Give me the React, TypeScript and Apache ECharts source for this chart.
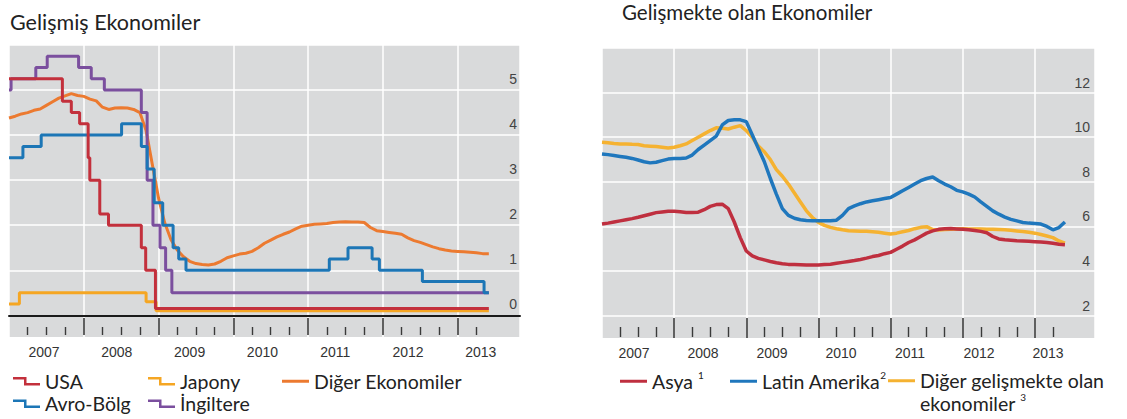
import React, { useEffect, useRef } from 'react';
import * as echarts from 'echarts';

// ---------- tick labels ----------
const years = ['2007', '2008', '2009', '2010', '2011', '2012', '2013'];

// ---------- Gelişmiş Ekonomiler (policy rates, change dates) ----------
const usa: [string, number][] = [
  ['2007-01-01', 5.25], ['2007-09-18', 4.75], ['2007-10-31', 4.5], ['2007-12-11', 4.25],
  ['2008-01-22', 3.5], ['2008-01-30', 3.0], ['2008-03-18', 2.25], ['2008-04-30', 2.0],
  ['2008-10-08', 1.5], ['2008-10-29', 1.0], ['2008-12-16', 0.15], ['2013-06-01', 0.15],
];
const japony: [string, number][] = [
  ['2007-01-01', 0.25], ['2007-02-21', 0.5], ['2008-10-31', 0.3], ['2008-12-19', 0.1], ['2013-06-01', 0.1],
];
const avroBolg: [string, number][] = [
  ['2007-01-01', 3.5], ['2007-03-08', 3.75], ['2007-06-06', 4.0], ['2008-07-03', 4.25],
  ['2008-10-08', 3.75], ['2008-11-06', 3.25], ['2008-12-10', 2.5], ['2009-01-21', 2.0],
  ['2009-03-11', 1.5], ['2009-04-08', 1.25], ['2009-05-13', 1.0], ['2011-04-13', 1.25],
  ['2011-07-13', 1.5], ['2011-11-09', 1.25], ['2011-12-14', 1.0], ['2012-07-11', 0.75],
  ['2013-05-08', 0.5], ['2013-06-01', 0.5],
];
const ingiltere: [string, number][] = [
  ['2007-01-01', 5.0], ['2007-01-11', 5.25], ['2007-05-10', 5.5], ['2007-07-05', 5.75],
  ['2007-12-06', 5.5], ['2008-02-07', 5.25], ['2008-04-10', 5.0], ['2008-10-08', 4.5],
  ['2008-11-06', 3.0], ['2008-12-04', 2.0], ['2009-01-08', 1.5], ['2009-02-05', 1.0],
  ['2009-03-05', 0.5], ['2013-06-01', 0.5],
];
// monthly, from Jan 2007
const digerEkonomiler = [
  4.38, 4.42, 4.47, 4.50, 4.55, 4.58, 4.66, 4.74, 4.82, 4.87,
  4.92, 4.88, 4.86, 4.80, 4.76, 4.62, 4.57, 4.60, 4.61, 4.60,
  4.57, 4.50, 4.10, 3.35, 2.60, 2.05, 1.68, 1.45, 1.30, 1.20,
  1.15, 1.13, 1.12, 1.14, 1.20, 1.28, 1.32, 1.36, 1.38, 1.42,
  1.50, 1.60, 1.67, 1.74, 1.80, 1.85, 1.92, 1.98, 2.00, 2.02,
  2.03, 2.04, 2.06, 2.07, 2.08, 2.07, 2.07, 2.06, 1.95, 1.88,
  1.86, 1.84, 1.82, 1.80, 1.72, 1.66, 1.62, 1.57, 1.52, 1.48,
  1.45, 1.43, 1.42, 1.41, 1.40, 1.39, 1.37, 1.37,
];

// ---------- Gelişmekte olan Ekonomiler (monthly, from Jan 2007) ----------
const asya = [
  6.11, 6.15, 6.20, 6.25, 6.30, 6.35, 6.41, 6.48, 6.55, 6.62,
  6.65, 6.68, 6.68, 6.66, 6.63, 6.63, 6.64, 6.75, 6.90, 6.98,
  7.00, 6.80, 6.20, 5.50, 4.90, 4.68, 4.57, 4.50, 4.43, 4.37,
  4.33, 4.30, 4.29, 4.28, 4.27, 4.27, 4.27, 4.29, 4.31, 4.35,
  4.39, 4.43, 4.47, 4.52, 4.58, 4.65, 4.70, 4.78, 4.84, 4.98,
  5.12, 5.28, 5.40, 5.55, 5.70, 5.80, 5.87, 5.90, 5.91, 5.89,
  5.87, 5.85, 5.82, 5.78, 5.72, 5.55, 5.44, 5.40, 5.38, 5.36,
  5.35, 5.34, 5.32, 5.30, 5.28, 5.25, 5.20, 5.18,
];
const latinAmerika = [
  9.25, 9.22, 9.18, 9.14, 9.10, 9.05, 8.98, 8.90, 8.85, 8.88,
  8.95, 9.02, 9.05, 9.05, 9.07, 9.20, 9.45, 9.65, 9.85, 10.05,
  10.55, 10.75, 10.78, 10.78, 10.70, 10.10, 9.50, 8.90, 8.15, 7.45,
  6.80, 6.50, 6.37, 6.30, 6.27, 6.26, 6.26, 6.26, 6.26, 6.28,
  6.50, 6.80, 6.92, 7.02, 7.10, 7.15, 7.20, 7.25, 7.30, 7.45,
  7.60, 7.75, 7.90, 8.05, 8.15, 8.22, 8.05, 7.90, 7.78, 7.62,
  7.55, 7.45, 7.32, 7.10, 6.90, 6.70, 6.55, 6.42, 6.32, 6.25,
  6.18, 6.15, 6.13, 6.11, 6.00, 5.85, 5.95, 6.20,
];
const digerGelismekte = [
  9.77, 9.75, 9.72, 9.70, 9.70, 9.68, 9.67, 9.62, 9.60, 9.58,
  9.55, 9.52, 9.55, 9.62, 9.70, 9.85, 10.00, 10.15, 10.30, 10.42,
  10.40, 10.37, 10.45, 10.52, 10.30, 10.00, 9.60, 9.35, 9.00, 8.55,
  8.25, 7.90, 7.50, 7.10, 6.70, 6.40, 6.18, 6.05, 5.96, 5.90,
  5.85, 5.81, 5.80, 5.79, 5.78, 5.76, 5.74, 5.70, 5.66, 5.70,
  5.76, 5.82, 5.90, 5.96, 5.99, 5.86, 5.84, 5.86, 5.88, 5.89,
  5.90, 5.89, 5.89, 5.89, 5.88, 5.87, 5.86, 5.85, 5.83, 5.80,
  5.77, 5.74, 5.70, 5.64, 5.57, 5.50, 5.35, 5.25,
];

// ---------- styling ----------
const FONT = 'Lato, "Open Sans", sans-serif';
const AXFONT = '"Liberation Sans", Arial, sans-serif';
const GREY = '#d9dadb';
const C = {
  usa: '#c3303c', japony: '#f5a623', diger: '#ec7a30', avro: '#1c76b6', ing: '#7b4f9e',
  asya: '#bf2f3f', latin: '#1f77bd', dge: '#f5b231',
};
const STEP_ICON = 'path://M0,0 L13.5,0 L13.5,6 L27,6 L27,8.5 L11,8.5 L11,2.5 L0,2.5 Z';
const LINE_ICON = 'path://M0,0 L27,0 L27,3 L0,3 Z';

const MONTHS = 82; // axis span in months from Jan 2007
const monthCats = Array.from({ length: MONTHS + 1 }, (_, i) => String(i));

function toMonth(d: string): number {
  const [y, m, dd] = d.split('-').map(Number);
  return (y - 2007) * 12 + (m - 1) + (dd - 1) / 30;
}

function isInt(v: number) {
  return Math.abs(v - Math.round(v)) < 1e-6;
}

function xAxesFor(grid: number, showZeroLine: boolean, majorOffset: number, majorLen: number,
  minorOffset: number, minorLen: number, labMin: number, labMax: number) {
  const hidden = { show: false };
  return [
    {
      type: 'value', gridIndex: grid, min: 0, max: MONTHS, minInterval: 12, maxInterval: 12,
      position: 'bottom',
      axisLine: { show: showZeroLine, onZero: true, lineStyle: { color: '#1a1a1a', width: 2 } },
      axisTick: hidden, axisLabel: hidden,
      splitLine: { show: true, lineStyle: { color: '#ffffff', width: 1.5 } },
    },
    {
      type: 'category', gridIndex: grid, data: monthCats, boundaryGap: false, position: 'bottom',
      offset: majorOffset,
      axisLine: { show: false, onZero: false },
      axisTick: {
        show: true, inside: true, length: majorLen,
        interval: (i: number) => i % 12 === 0 && i > 0 && i < MONTHS,
        lineStyle: { color: '#3a3a3a', width: 1.6 },
      },
      axisLabel: hidden, splitLine: hidden,
    },
    {
      type: 'category', gridIndex: grid, data: monthCats, boundaryGap: false, position: 'bottom',
      offset: minorOffset,
      axisLine: { show: false, onZero: false },
      axisTick: {
        show: true, inside: true, length: minorLen,
        interval: (i: number) => i % 3 === 0 && i % 12 !== 0 && i <= 75,
        lineStyle: { color: '#3a3a3a', width: 1.4 },
      },
      axisLabel: hidden, splitLine: hidden,
    },
    {
      type: 'value', gridIndex: grid, min: labMin, max: labMax, minInterval: 1, maxInterval: 1,
      position: 'bottom',
      axisLine: { show: false, onZero: false }, axisTick: hidden, splitLine: hidden,
      axisLabel: {
        show: true, margin: 8, fontSize: 14, color: '#333', fontFamily: AXFONT,
        formatter: (v: number) => (isInt(v) && Math.round(v) >= 0 && Math.round(v) < years.length ? years[Math.round(v)] : ''),
      },
    },
  ];
}

function stepSeries(name: string, data: [string, number][], color: string) {
  return {
    type: 'line', name, xAxisIndex: 0, yAxisIndex: 0, step: 'end', symbol: 'none', color,
    data: data.map(([d, v]) => [toMonth(d), v]),
    lineStyle: { color, width: 3 }, itemStyle: { color },
  };
}

function monthlySeries(name: string, values: number[], color: string, xi: number, yi: number, width: number) {
  return {
    type: 'line', name, xAxisIndex: xi, yAxisIndex: yi, symbol: 'none', color,
    data: values.map((v, i) => [i, v]),
    lineStyle: { color, width }, itemStyle: { color },
  };
}

function buildOption(): any {
  const legendText = { fontSize: 19.5, lineHeight: 22.5, color: '#222', fontFamily: FONT };
  const legendTextR = {
    fontSize: 19.5, lineHeight: 22.5, color: '#222', fontFamily: FONT,
    rich: { sup: { fontSize: 10, lineHeight: 10, verticalAlign: 'top', color: '#222', fontFamily: FONT } },
  };
  const legBase = { padding: 0, selectedMode: false, itemStyle: { borderWidth: 0 } };
  return {
    animation: false,
    backgroundColor: '#ffffff',
    title: [
      { text: 'Gelişmiş Ekonomiler', left: 10, top: 11, padding: 0,
        textStyle: { fontSize: 21.5, fontWeight: 'normal', color: '#222', fontFamily: FONT } },
      { text: 'Gelişmekte olan Ekonomiler', left: 622, top: 1, padding: 0,
        textStyle: { fontSize: 20.5, fontWeight: 'normal', color: '#222', fontFamily: FONT } },
    ],
    grid: [
      { left: 9, top: 45, width: 511, height: 292, show: true, backgroundColor: GREY, borderWidth: 0 },
      { left: 602, top: 48, width: 493, height: 290, show: true, backgroundColor: GREY, borderWidth: 0 },
    ],
    xAxis: [
      ...xAxesFor(0, true, -2, 17, -2, 8, -0.481, 6.538),
      ...xAxesFor(1, false, 0, 20, -1, 10, -0.464, 6.681),
    ],
    yAxis: [
      {
        type: 'value', gridIndex: 0, position: 'right', min: -0.48, max: 6, minInterval: 1, maxInterval: 1,
        axisLine: { show: false, onZero: false }, axisTick: { show: false },
        splitLine: { show: true, showMinLine: false, lineStyle: { color: '#ffffff', width: 1.5 } },
        axisLabel: {
          inside: true, margin: 3, fontSize: 14, color: '#444', fontFamily: AXFONT,
          verticalAlign: 'bottom', lineHeight: 22,
          formatter: (v: number) => (isInt(v) && v >= 0 && v <= 5 ? String(Math.round(v)) : ''),
        },
      },
      {
        type: 'value', gridIndex: 1, position: 'right', min: 1, max: 14, minInterval: 2, maxInterval: 2,
        axisLine: { show: false, onZero: false }, axisTick: { show: false },
        splitLine: { show: true, showMinLine: false, lineStyle: { color: '#ffffff', width: 1.5 } },
        axisLabel: {
          inside: true, margin: 5, fontSize: 14, color: '#444', fontFamily: AXFONT,
          verticalAlign: 'bottom', lineHeight: 20,
          formatter: (v: number) => (isInt(v) && v >= 2 && v <= 12 ? String(Math.round(v)) : ''),
        },
      },
    ],
    legend: [
      { ...legBase, left: 13, top: 370, orient: 'vertical', itemGap: 0, itemWidth: 27, itemHeight: 8.5,
        data: [{ name: 'USA', icon: STEP_ICON }, { name: 'Avro-Bölg', icon: STEP_ICON }], textStyle: legendText },
      { ...legBase, left: 148, top: 370, orient: 'vertical', itemGap: 0, itemWidth: 27, itemHeight: 8.5,
        data: [{ name: 'Japony', icon: STEP_ICON }, { name: 'İngiltere', icon: STEP_ICON }], textStyle: legendText },
      { ...legBase, left: 282, top: 370, orient: 'vertical', itemGap: 0, itemWidth: 27, itemHeight: 3,
        data: [{ name: 'Diğer Ekonomiler', icon: LINE_ICON }], textStyle: legendText },
      { ...legBase, left: 620, top: 370, itemWidth: 27, itemHeight: 3,
        data: [{ name: 'Asya', icon: LINE_ICON }], textStyle: legendTextR,
        formatter: (n: string) => n + ' {sup|1}' },
      { ...legBase, left: 730, top: 370, itemWidth: 27, itemHeight: 3,
        data: [{ name: 'Latin Amerika', icon: LINE_ICON }], textStyle: legendTextR,
        formatter: (n: string) => n + '{sup|2}' },
      { ...legBase, left: 888, top: 347, itemWidth: 27, itemHeight: 3,
        data: [{ name: 'Diğer gelişmekte olan ekonomiler', icon: LINE_ICON }],
        textStyle: { ...legendTextR, padding: [22.5, 0, 0, 0] },
        formatter: () => 'Diğer gelişmekte olan\nekonomiler {sup|3}' },
    ],
    series: [
      monthlySeries('Diğer Ekonomiler', digerEkonomiler, C.diger, 0, 0, 3),
      stepSeries('Japony', japony, C.japony),
      stepSeries('İngiltere', ingiltere, C.ing),
      stepSeries('Avro-Bölg', avroBolg, C.avro),
      stepSeries('USA', usa, C.usa),
      monthlySeries('Diğer gelişmekte olan ekonomiler', digerGelismekte, C.dge, 4, 1, 3.5),
      monthlySeries('Latin Amerika', latinAmerika, C.latin, 4, 1, 3.5),
      monthlySeries('Asya', asya, C.asya, 4, 1, 3.5),
    ],
  };
}

export default function App() {
  const ref = useRef<HTMLDivElement>(null);
  useEffect(() => {
    if (!ref.current) return;
    const chart = echarts.init(ref.current, null, { renderer: 'svg' });
    chart.setOption(buildOption());
    return () => chart.dispose();
  }, []);
  return (
    <div
      ref={ref}
      style={{ position: 'absolute', left: 0, top: 0, width: 1127, height: 419, background: '#fff' }}
    />
  );
}
